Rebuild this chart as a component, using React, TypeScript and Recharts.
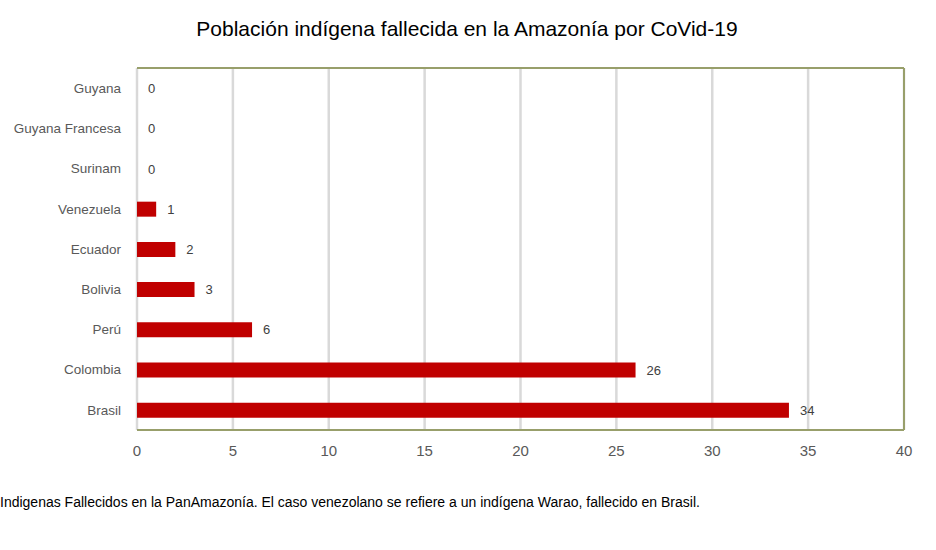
import { Bar, BarChart, CartesianGrid, LabelList, ReferenceLine, XAxis, YAxis } from "recharts";

// Indigenous deaths by country (PanAmazonía), top to bottom as drawn.
const countries = [
  "Guyana",
  "Guyana Francesa",
  "Surinam",
  "Venezuela",
  "Ecuador",
  "Bolivia",
  "Perú",
  "Colombia",
  "Brasil",
];
const deaths = [0, 0, 0, 1, 2, 3, 6, 26, 34];
const xTicks = [0, 5, 10, 15, 20, 25, 30, 35, 40];

const title = "Población indígena fallecida en la Amazonía por CoVid-19";
const footnote =
  "Indigenas Fallecidos en la PanAmazonía. El caso venezolano se refiere a un indígena Warao, fallecido en Brasil.";

const rows = countries.map((country, i) => ({ country, deaths: deaths[i] }));

const FONT = "'Liberation Sans', Arial, sans-serif";
const OLIVE = "#989F6B";
const GRID = "#D9D9D9";
const TEXT = "#595959";

export default function App() {
  return (
    <div
      style={{
        position: "absolute",
        left: 0,
        top: 0,
        width: 936,
        height: 550,
        background: "#fff",
        fontFamily: FONT,
      }}
    >
      <div
        style={{
          position: "absolute",
          top: 17,
          left: 0,
          width: 934,
          textAlign: "center",
          fontSize: 21,
          color: "#000",
        }}
      >
        {title}
      </div>

      <BarChart
        width={936}
        height={550}
        data={rows}
        layout="vertical"
        margin={{ top: 67, right: 32, bottom: 90, left: 0 }}
        barCategoryGap={0}
        style={{ position: "absolute", left: 0, top: 0 }}
      >
        <CartesianGrid horizontal={false} stroke={GRID} strokeWidth={2.5} />
        <XAxis
          type="number"
          dataKey="deaths"
          domain={[0, 40]}
          ticks={xTicks}
          interval={0}
          height={30}
          axisLine={{ stroke: OLIVE, strokeWidth: 2 }}
          tickLine={false}
          tickMargin={9}
          tick={{ fill: TEXT, fontSize: 15, fontFamily: FONT }}
        />
        {/* top edge of the plot frame */}
        <XAxis
          xAxisId="top"
          type="number"
          orientation="top"
          domain={[0, 40]}
          height={1}
          tick={false}
          tickLine={false}
          axisLine={{ stroke: OLIVE, strokeWidth: 2 }}
        />
        <YAxis
          type="category"
          dataKey="country"
          width={137}
          axisLine={false}
          tickLine={false}
          tickMargin={10}
          tick={{ fill: TEXT, fontSize: 13.5, fontFamily: FONT }}
        />
        <ReferenceLine x={40} stroke={OLIVE} strokeWidth={2} />
        <Bar
          dataKey="deaths"
          fill="#C00000"
          barSize={15}
          minPointSize={(v: number) => (v === 0 ? 0.01 : 0)}
          isAnimationActive={false}
        >
          <LabelList
            dataKey="deaths"
            position="right"
            offset={11}
            fill="#404040"
            fontSize={13}
            fontFamily={FONT}
          />
        </Bar>
      </BarChart>

      <div
        style={{
          position: "absolute",
          top: 494,
          left: 0,
          fontSize: 14,
          color: "#000",
          whiteSpace: "nowrap",
        }}
      >
        {footnote}
      </div>
    </div>
  );
}
